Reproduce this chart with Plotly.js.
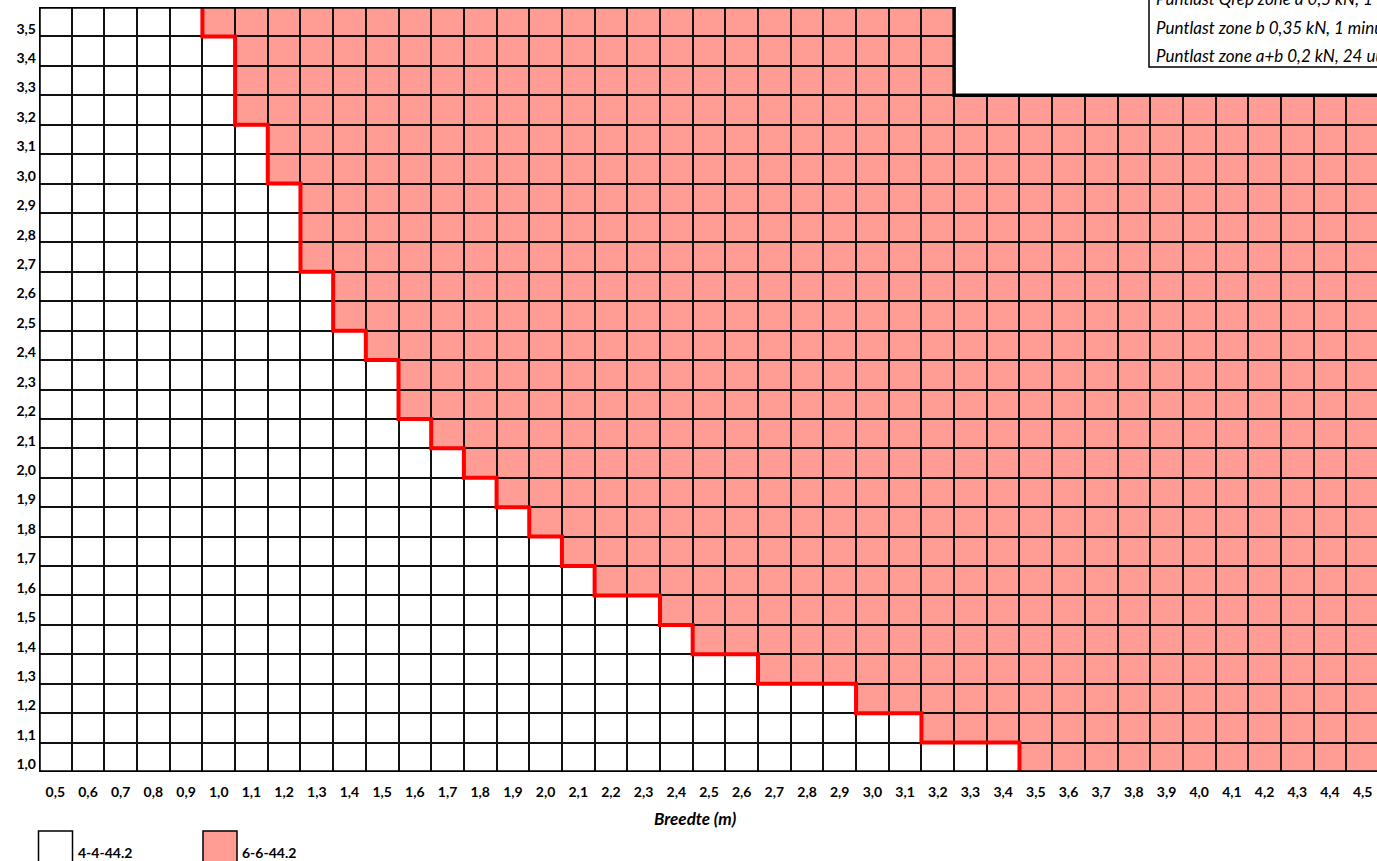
<!DOCTYPE html>
<html>
<head>
<meta charset="utf-8">
<script src="https://cdn.plot.ly/plotly-3.0.1.min.js"></script>
<style>
html,body{margin:0;padding:0;overflow:hidden;background:#fff;}
#chart{width:1420px;height:861px;}
</style>
</head>
<body>
<div id="chart"></div>
<script>
// Breedte (m) categories
var widths = [0.5,0.6,0.7,0.8,0.9,1.0,1.1,1.2,1.3,1.4,1.5,1.6,1.7,1.8,1.9,2.0,2.1,2.2,2.3,2.4,2.5,2.6,2.7,2.8,2.9,3.0,3.1,3.2,3.3,3.4,3.5,3.6,3.7,3.8,3.9,4.0,4.1,4.2,4.3,4.4,4.5];
var widthLabels = ['0,5','0,6','0,7','0,8','0,9','1,0','1,1','1,2','1,3','1,4','1,5','1,6','1,7','1,8','1,9','2,0','2,1','2,2','2,3','2,4','2,5','2,6','2,7','2,8','2,9','3,0','3,1','3,2','3,3','3,4','3,5','3,6','3,7','3,8','3,9','4,0','4,1','4,2','4,3','4,4','4,5'];
// Hoogte categories (top to bottom)
var heights = [3.5,3.4,3.3,3.2,3.1,3.0,2.9,2.8,2.7,2.6,2.5,2.4,2.3,2.2,2.1,2.0,1.9,1.8,1.7,1.6,1.5,1.4,1.3,1.2,1.1,1.0];
var heightLabels = ['3,5','3,4','3,3','3,2','3,1','3,0','2,9','2,8','2,7','2,6','2,5','2,4','2,3','2,2','2,1','2,0','1,9','1,8','1,7','1,6','1,5','1,4','1,3','1,2','1,1','1,0'];
// largest width that still uses 4-4-44.2, per height
var maxWidth444 = [0.9,1.0,1.0,1.0,1.1,1.1,1.2,1.2,1.2,1.3,1.3,1.4,1.5,1.5,1.6,1.7,1.8,1.9,2.0,2.1,2.3,2.4,2.6,2.9,3.1,3.4];
// largest width in the table, per height
var maxWidthTable = [3.2,3.2,3.2,4.5,4.5,4.5,4.5,4.5,4.5,4.5,4.5,4.5,4.5,4.5,4.5,4.5,4.5,4.5,4.5,4.5,4.5,4.5,4.5,4.5,4.5,4.5];
var glassTypes = ['4-4-44.2','6-6-44.2'];
var glassColors = ['#FFFFFF','#FF9D95'];
var loadTexts = ['Puntlast Qrep zone a 0,5 kN, 1 minuut','Puntlast zone b 0,35 kN, 1 minuut','Puntlast zone a+b 0,2 kN, 24 uur'];

function r10(v){return Math.round(v*10);}
var z = [], zMiss = [];
heights.forEach(function(h,i){
  var row=[], rowM=[];
  widths.forEach(function(w){
    if (r10(w) <= r10(maxWidth444[i])) {row.push(0); rowM.push(null);}
    else if (r10(w) <= r10(maxWidthTable[i])) {row.push(1); rowM.push(null);}
    else {row.push(null); rowM.push(1);}
  });
  z.push(row); zMiss.push(rowM);
});
var half = 0.05;
// red boundary
var rx=[], ry=[];
heights.forEach(function(h,i){
  rx.push(maxWidth444[i]+half, maxWidth444[i]+half);
  ry.push(h+half, h-half);
});
// outline
var ox=[widths[0]-half, widths[0]-half], oy=[heights[heights.length-1]-half, heights[0]+half];
heights.forEach(function(h,i){
  ox.push(maxWidthTable[i]+half, maxWidthTable[i]+half);
  oy.push(h+half, h-half);
});
ox.push(widths[0]-half); oy.push(heights[heights.length-1]-half);

var traces = [
  {type:'heatmap', x:widths, y:heights, z:z, zmin:0, zmax:1,
   colorscale:[[0,glassColors[0]],[1,glassColors[1]]], showscale:false,
   xgap:2, ygap:2, hoverinfo:'skip'},
  {type:'heatmap', x:widths, y:heights, z:zMiss, zmin:0, zmax:1,
   colorscale:[[0,'#FFFFFF'],[1,'#FFFFFF']], showscale:false, hoverinfo:'skip'},
  {type:'scatter', mode:'lines', x:rx, y:ry, line:{color:'#FF0000', width:4}, cliponaxis:false, hoverinfo:'skip', showlegend:false},
  {type:'scatter', mode:'lines', x:ox, y:oy, line:{color:'#000000', width:3.5}, cliponaxis:false, hoverinfo:'skip', showlegend:false}
];

var font = 'Lato, "Open Sans", sans-serif';
var W=1340, L=39, T=7, H=765;
function px(x){return (x-L)/W;}
function py(y){return (T+H-y)/H;}

var annotations = [];
loadTexts.forEach(function(t,i){
  annotations.push({xref:'paper', yref:'paper', x:px(1154), y:py([-2,27,56][i]), xanchor:'left', yanchor:'middle',
    text:t, showarrow:false, font:{family:font, size:17, style:'italic', color:'#000'}});
});
annotations.push({xref:'paper', yref:'paper', x:px(695), y:py(818), xanchor:'center', yanchor:'middle',
  text:'Breedte (m)', showarrow:false, font:{family:font, size:17, weight:700, style:'italic', color:'#000'}});
var legX = [38.5, 203];
glassTypes.forEach(function(g,i){
  annotations.push({xref:'paper', yref:'paper', x:px(legX[i]+37), y:py(852), xanchor:'left', yanchor:'middle',
    text:g, showarrow:false, font:{family:font, size:14, weight:700, color:'#000'}});
});
var shapes = [
  {type:'rect', xref:'paper', yref:'paper', x0:px(1149), x1:px(1500), y0:py(67), y1:py(-30),
   line:{color:'#000', width:1.5}, fillcolor:'rgba(0,0,0,0)'}
];
glassTypes.forEach(function(g,i){
  shapes.push({type:'rect', xref:'paper', yref:'paper', x0:px(legX[i]), x1:px(legX[i]+34), y0:py(831), y1:py(880),
   line:{color:'#000', width:1.5}, fillcolor:glassColors[i]});
});

var layout = {
  width:1420, height:861,
  margin:{l:L, r:1420-L-W, t:T, b:861-T-H, pad:0},
  paper_bgcolor:'#FFFFFF', plot_bgcolor:'#111111',
  showlegend:false,
  xaxis:{range:[widths[0]-half, widths[widths.length-1]+half], tickmode:'array', tickvals:widths, ticktext:widthLabels,
    showgrid:false, zeroline:false, showline:false, ticks:'', fixedrange:true, ticklabelstandoff:10,
    tickfont:{family:font, size:14, weight:700, color:'#000'}},
  yaxis:{range:[heights[heights.length-1]-half, heights[0]+half], tickmode:'array', tickvals:heights, ticktext:heightLabels,
    showgrid:false, zeroline:false, showline:false, ticks:'', fixedrange:true, ticklabelshift:7, ticklabelstandoff:2,
    tickfont:{family:font, size:14, weight:700, color:'#000'}},
  annotations:annotations, shapes:shapes
};
Plotly.newPlot('chart', traces, layout, {staticPlot:true});
</script>
</body>
</html>
